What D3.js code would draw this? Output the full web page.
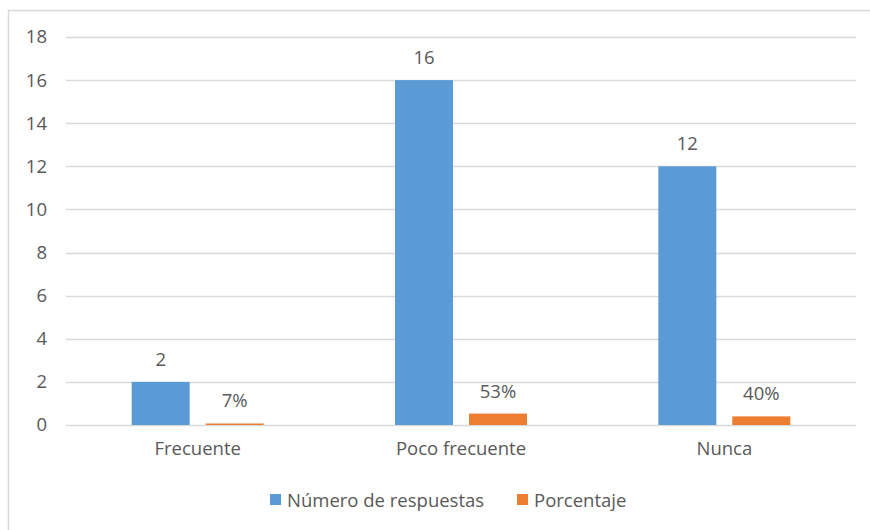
<!DOCTYPE html>
<html><head><meta charset="utf-8">
<script src="https://cdn.jsdelivr.net/npm/d3@7"></script>
<style>body{margin:0;background:#fff;} text{font-family:"Open Sans",sans-serif;fill:#595959;}</style>
</head><body>
<svg id="c" width="870" height="530"></svg>
<script>
const categories = ["Frecuente", "Poco frecuente", "Nunca"];
const respuestas = [2, 16, 12];
const porcentaje = [0.07, 0.53, 0.40];
const porcentajeLabels = ["7%", "53%", "40%"];
const yTicks = [0, 2, 4, 6, 8, 10, 12, 14, 16, 18];
const seriesNames = ["Número de respuestas", "Porcentaje"];
const colors = ["#5b9bd5", "#ed7d31"];

(function () {
const fs = "18.5px";
const svg = d3.select("#c");
svg.append("rect").attr("x", 8.5).attr("y", 10.5).attr("width", 870).attr("height", 530)
  .attr("fill", "#fff").attr("stroke", "#d9d9d9").attr("stroke-width", 1.5);

const pl = 66, pr = 856, pt = 37, pb = 425;
const x = d3.scaleBand().domain(categories).range([pl, pr]);
const y = d3.scaleLinear().domain([0, 18]).range([pb, pt]);

const grid = svg.append("g");
grid.selectAll("line").data(yTicks).join("line")
  .attr("x1", pl).attr("x2", pr)
  .attr("y1", d => Math.round(y(d)) + 0.5).attr("y2", d => Math.round(y(d)) + 0.5)
  .attr("stroke", "#d9d9d9").attr("stroke-width", 1.5);

const yAxis = svg.append("g").attr("transform", `translate(${pl},0)`)
  .call(d3.axisLeft(y).tickValues(yTicks).tickSize(0).tickPadding(19));
yAxis.select(".domain").remove();
yAxis.selectAll("text").style("font-size", fs).attr("fill", "#595959");

const xAxis = svg.append("g").attr("transform", `translate(0,${pb})`)
  .call(d3.axisBottom(x).tickSize(0).tickPadding(17));
xAxis.select(".domain").remove();
xAxis.selectAll("text").style("font-size", fs).attr("fill", "#595959");

const barW = 58, gap = 16;
const data = categories.map((c, i) => ({c, v: [respuestas[i], porcentaje[i]], l: [String(respuestas[i]), porcentajeLabels[i]]}));
data.forEach(d => {
  const cx = x(d.c) + x.bandwidth() / 2;
  [0, 1].forEach(s => {
    const bx = s === 0 ? cx - gap / 2 - barW : cx + gap / 2;
    const by = y(d.v[s]);
    svg.append("rect").attr("x", bx).attr("y", by).attr("width", barW)
      .attr("height", Math.max(pb - by, 1.5)).attr("fill", colors[s]);
    svg.append("text").attr("x", bx + barW / 2).attr("y", by - 16)
      .attr("text-anchor", "middle").style("font-size", fs).text(d.l[s]);
  });
});

const legend = svg.append("g");
const legendX = [270, 517];
seriesNames.forEach((n, i) => {
  legend.append("rect").attr("x", legendX[i]).attr("y", 494).attr("width", 11).attr("height", 11).attr("fill", colors[i]);
  legend.append("text").attr("x", legendX[i] + 17).attr("y", 506.5).style("font-size", fs).text(n);
});
})();
</script>
</body></html>
